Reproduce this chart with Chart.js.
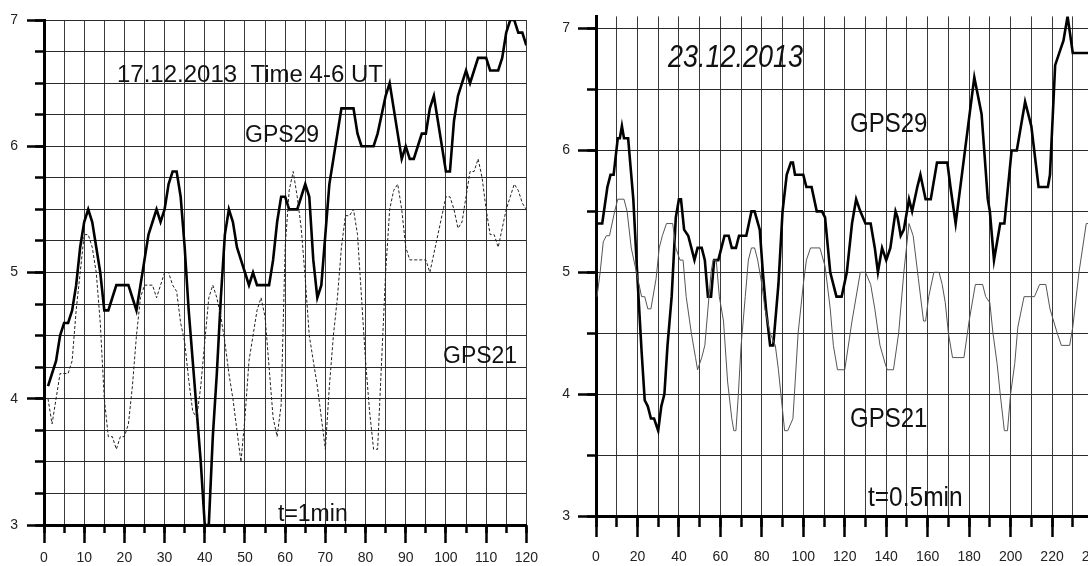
<!DOCTYPE html>
<html><head><meta charset="utf-8">
<script src="https://cdn.jsdelivr.net/npm/chart.js@4.4.1/dist/chart.umd.min.js"></script>
<style>
html,body{margin:0;padding:0;background:#fff;overflow:hidden;width:1088px;height:566px;position:relative;}
#wrapL{position:absolute;left:0;top:0;width:545px;height:566px;}
#wrapR{position:absolute;left:545px;top:0;width:600px;height:566px;}
canvas{display:block;}
.ann{position:absolute;font-family:"Liberation Sans",Arial,sans-serif;color:#111;white-space:nowrap;line-height:1;}
.st{transform-origin:0 84.65%;}
</style></head><body>
<div id="wrapL"><canvas id="cL" width="545" height="566"></canvas></div>
<div id="wrapR"><canvas id="cR" width="600" height="566"></canvas></div>

<div class="ann" style="left:117px;top:61.7px;font-size:24px;">17.12.2013&nbsp;&nbsp;Time 4-6 UT</div>
<div class="ann" style="left:245px;top:122.5px;font-size:23px;">GPS29</div>
<div class="ann" style="left:443px;top:343.5px;font-size:23px;">GPS21</div>
<div class="ann" style="left:278px;top:502px;font-size:23px;">t=1min</div>

<div class="ann st" style="left:668px;top:45px;font-size:27px;font-style:italic;transform:scaleY(1.18);">23.12.2013</div>
<div class="ann st" style="left:850px;top:111.7px;font-size:24px;transform:scaleY(1.16);">GPS29</div>
<div class="ann st" style="left:850px;top:406.7px;font-size:24px;transform:scaleY(1.16);">GPS21</div>
<div class="ann st" style="left:868px;top:486.3px;font-size:24.5px;transform:scaleY(1.15);">t=0.5min</div>

<script>
// ---------- Left panel: 17.12.2013, t = 1 min ----------
const leftT = [1,2,3,4,5,6,7,8,9,10,11,12,13,14,15,16,17,18,19,20,
  21,22,23,24,25,26,27,28,29,30,31,32,33,34,35,36,37,38,39,40,
  41,42,43,44,45,46,47,48,49,50,51,52,53,54,55,56,57,58,59,60,
  61,62,63,64,65,66,67,68,69,70,71,72,73,74,75,76,77,78,79,80,
  81,82,83,84,85,86,87,88,89,90,91,92,93,94,95,96,97,98,99,100,
  101,102,103,104,105,106,107,108,109,110,111,112,113,114,115,116,117,118,119,120];

const leftGPS29 = [4.1,4.2,4.3,4.5,4.6,4.6,4.7,4.9,5.2,5.4,5.5,5.4,5.2,5.0,4.7,4.7,4.8,4.9,4.9,4.9,
  4.9,4.8,4.7,4.9,5.1,5.3,5.4,5.5,5.4,5.5,5.7,5.8,5.8,5.6,5.2,4.7,4.3,3.9,3.5,3.0,
  3.0,3.7,4.2,4.8,5.3,5.5,5.4,5.2,5.1,5.0,4.9,5.0,4.9,4.9,4.9,4.9,5.1,5.4,5.6,5.6,
  5.5,5.5,5.5,5.6,5.7,5.6,5.1,4.8,4.9,5.3,5.7,5.9,6.1,6.3,6.3,6.3,6.3,6.1,6.0,6.0,
  6.0,6.0,6.1,6.25,6.4,6.5,6.3,6.1,5.9,6.0,5.9,5.9,6.0,6.1,6.1,6.3,6.4,6.2,6.0,5.8,
  5.8,6.2,6.4,6.5,6.6,6.5,6.6,6.7,6.7,6.7,6.6,6.6,6.6,6.7,6.9,7.0,7.0,6.9,6.9,6.8];

const leftGPS21 = [4.0,3.8,4.0,4.2,4.2,4.2,4.3,4.7,5.0,5.3,5.3,5.2,5.0,4.6,4.0,3.7,3.7,3.6,3.7,3.7,
  3.8,4.1,4.5,4.8,4.9,4.9,4.9,4.8,4.9,5.0,5.0,4.9,4.85,4.6,4.45,4.15,3.9,3.85,4.1,4.45,
  4.8,4.9,4.8,4.65,4.45,4.2,4.0,3.75,3.5,3.85,4.3,4.5,4.7,4.8,4.65,4.25,3.85,3.7,3.95,5.2,
  5.65,5.8,5.6,5.35,4.95,4.5,4.3,4.1,3.85,3.6,4.1,4.5,4.8,5.2,5.45,5.45,5.5,5.3,4.8,4.3,
  3.9,3.6,3.6,4.3,5.0,5.5,5.65,5.7,5.5,5.2,5.1,5.1,5.1,5.1,5.1,5.0,5.15,5.3,5.45,5.6,
  5.6,5.5,5.35,5.4,5.6,5.8,5.8,5.9,5.75,5.5,5.3,5.3,5.2,5.35,5.5,5.6,5.7,5.65,5.55,5.5];

const leftXMajor = [0,10,20,30,40,50,60,70,80,90,100,110,120];
const leftXMinor = [0,5,10,15,20,25,30,35,40,45,50,55,60,65,70,75,80,85,90,95,100,105,110,115,120];
const leftYMajor = [3,4,5,6,7];
const leftYMinor = [3,3.25,3.5,3.75,4,4.25,4.5,4.75,5,5.25,5.5,5.75,6,6.25,6.5,6.75,7];

// ---------- Right panel: 23.12.2013, t = 0.5 min ----------
const rightX29 = [0,3,5.5,7,8.5,10.5,11.5,12.5,13.5,15.5,18,20,22,23.5,25,26.5,28,30,31.5,33,
  34.5,36.5,38.5,40,41,42.5,44.5,46,47.5,49,51,52.5,54,55.5,57,59,60.5,62,64,65.5,
  67.5,69,72.5,75,76.5,79,80.5,82,84,85.5,88,90,92,94,95,96,100,101.5,104,106.5,
  109,110.5,113,116,118.5,121,123.5,125.5,127.5,130,132.5,134.5,136,138,140,142,144.5,145.5,147,148.5,
  151,152.5,155,156.5,159,161.5,164.5,169.5,171,173.5,176.5,178,182.5,186,189,190,192,193.5,195,197,
  200.5,203,207,210,213.5,218,219,221.5,223.5,225.5,227.5,230,240];
const rightGPS29 = [5.4,5.4,5.7,5.8,5.8,6.1,6.1,6.2,6.1,6.1,5.6,4.95,4.35,3.95,3.9,3.8,3.8,3.7,3.9,4.0,
  4.4,4.8,5.45,5.6,5.6,5.35,5.3,5.2,5.1,5.2,5.2,5.1,4.8,4.8,5.1,5.1,5.2,5.3,5.3,5.2,
  5.2,5.3,5.3,5.5,5.5,5.35,5.0,4.7,4.4,4.4,4.9,5.5,5.8,5.9,5.9,5.8,5.8,5.7,5.7,5.5,
  5.5,5.45,5.0,4.8,4.8,5.0,5.4,5.6,5.5,5.4,5.4,5.2,5.0,5.2,5.1,5.2,5.5,5.45,5.3,5.35,
  5.6,5.5,5.7,5.8,5.6,5.6,5.9,5.9,5.7,5.4,5.8,6.0,6.6,6.3,5.6,5.5,5.1,5.25,5.4,5.4,
  6.0,6.0,6.4,6.2,5.7,5.7,5.8,6.7,6.8,6.9,7.1,6.8,6.8];

const rightX21 = [0.5,2,3.5,5,6.5,9,10.5,13.5,15,17,19.5,22,23.5,25,26.5,29,30.5,32,34,37,
  38.5,40.5,42,43.5,46,48,49,51,52.5,54,55.5,56.5,58,59.5,61.5,63.5,65.5,66.5,67.5,68.5,
  70,72,73.5,75,76.5,78,80,81.5,84,86.5,88,89.5,91,92.5,95,97.5,100,101.5,103.5,108,
  110.5,113,114.5,116.5,120,123.5,127.5,130,132.5,134.5,137,139.5,140.5,143.5,146,148.5,151,153,155.5,158,
  159,160.5,163,165.5,167,168.5,170,172,177.5,180,183,186.5,188,190,191.5,193.5,195,197,198.5,200,
  202,203.5,206.5,211.5,214,217,219,222.5,224.5,228.5,230,233,236.5,240];
const rightGPS21 = [4.8,5.0,5.25,5.3,5.3,5.5,5.6,5.6,5.5,5.2,5.0,4.8,4.8,4.7,4.7,4.95,5.2,5.3,5.4,5.4,
  5.2,5.1,5.1,4.8,4.5,4.3,4.2,4.3,4.4,4.7,5.0,5.1,5.1,4.8,4.6,4.1,3.8,3.7,3.7,3.95,
  4.4,4.8,5.1,5.2,5.2,5.1,4.9,4.7,4.5,4.4,4.2,3.95,3.7,3.7,3.8,4.5,4.9,5.1,5.2,5.2,
  5.05,4.7,4.4,4.2,4.2,4.6,5.0,5.0,4.9,4.7,4.4,4.25,4.2,4.2,4.5,5.0,5.4,5.3,4.95,4.6,
  4.6,4.8,5.0,5.0,4.9,4.75,4.5,4.3,4.3,4.6,4.9,4.9,4.8,4.75,4.5,4.25,4.0,3.7,3.7,4.0,
  4.25,4.55,4.8,4.8,4.9,4.9,4.7,4.5,4.4,4.4,4.55,5.0,5.4,5.4];

const rightXMajor = [0,20,40,60,80,100,120,140,160,180,200,220,240];
const rightXMinor = [0,10,20,30,40,50,60,70,80,90,100,110,120,130,140,150,160,170,180,190,200,210,220,230,240];
const rightYMajor = [3,4,5,6,7];
const rightYMinor = [3,3.5,4,4.5,5,5.5,6,6.5,7];

// ---------- helpers ----------
const FONT = '"Liberation Sans", Arial, sans-serif';
function pts(xs, ys){ return xs.map((x,i)=>({x:x, y:ys[i]})); }
function setTicks(arr){ return function(s){ s.ticks = arr.map(v=>({value:v})); }; }

function makeScales(o){
  return {
    x: { type:'linear', position:'bottom', min:o.xmin, max:o.xmax, weight:1,
      afterBuildTicks:setTicks(o.xMajor), afterFit:s=>{s.height=o.xH;},
      grid:{drawOnChartArea:false, drawTicks:true, tickLength:o.xMajLen, tickWidth:2.5, tickColor:'#000'},
      border:{display:false},
      ticks:{autoSkip:false, maxRotation:0, padding:o.xPad, color:'#222', font:{family:FONT, size:14}} },
    xm:{ type:'linear', position:'bottom', min:o.xmin, max:o.xmax, weight:0,
      afterBuildTicks:setTicks(o.xMinor), afterFit:s=>{s.height=0;},
      grid:{drawOnChartArea:true, color:'#3a3a3a', lineWidth:1, tickLength:o.xMinLen, tickWidth:2.5, tickColor:'#000'},
      border:{display:true, color:'#000', width:3},
      ticks:{display:false, autoSkip:false} },
    y: { type:'linear', position:'left', min:o.ymin, max:o.ymax, weight:1,
      afterBuildTicks:setTicks(o.yMajor), afterFit:s=>{s.width=o.yW;},
      grid:{drawOnChartArea:false, tickLength:o.yMajLen, tickWidth:2.5, tickColor:'#000'},
      border:{display:false},
      ticks:{autoSkip:false, padding:o.yPad, color:'#222', font:{family:FONT, size:14}} },
    ym:{ type:'linear', position:'left', min:o.ymin, max:o.ymax, weight:0,
      afterBuildTicks:setTicks(o.yMinor), afterFit:s=>{s.width=0;},
      grid:{drawOnChartArea:true, color:'#2a2a2a', lineWidth:1, tickLength:o.yMinLen, tickWidth:2.5, tickColor:'#000'},
      border:{display:true, color:'#000', width:3},
      ticks:{display:false, autoSkip:false} }
  };
}

const common = {
  responsive:false, animation:false, devicePixelRatio:1,
  plugins:{legend:{display:false}, tooltip:{enabled:false}},
  elements:{point:{radius:0}, line:{tension:0}}
};

new Chart(document.getElementById('cL'), {
  type:'line',
  data:{datasets:[
    {label:'GPS21', data:pts(leftT, leftGPS21), borderColor:'#222', borderWidth:1, borderDash:[3,2], fill:false},
    {label:'GPS29', data:pts(leftT, leftGPS29), borderColor:'#000', borderWidth:2.6, fill:false}
  ]},
  options:Object.assign({}, common, {
    layout:{padding:{left:0, top:20, right:9, bottom:0}},
    scales:makeScales({xmin:0,xmax:120,ymin:3,ymax:7,xMajor:leftXMajor,xMinor:leftXMinor,
      yMajor:leftYMajor,yMinor:leftYMinor,xH:41,yW:44,xMajLen:18,xMinLen:8,yMajLen:17,yMinLen:9,xPad:7,yPad:9})
  })
});

new Chart(document.getElementById('cR'), {
  type:'line',
  data:{datasets:[
    {label:'GPS21', data:pts(rightX21, rightGPS21), borderColor:'#555', borderWidth:1, fill:false},
    {label:'GPS29', data:pts(rightX29, rightGPS29), borderColor:'#000', borderWidth:2.6, fill:false}
  ]},
  options:Object.assign({}, common, {
    layout:{padding:{left:0, top:12.7, right:51.5, bottom:0}},
    scales:makeScales({xmin:0,xmax:240,ymin:3,ymax:7.1,xMajor:rightXMajor,xMinor:rightXMinor,
      yMajor:rightYMajor,yMinor:rightYMinor,xH:50,yW:51,xMajLen:21,xMinLen:11,yMajLen:18,yMinLen:9,xPad:12,yPad:8})
  })
});
</script>
</body></html>
